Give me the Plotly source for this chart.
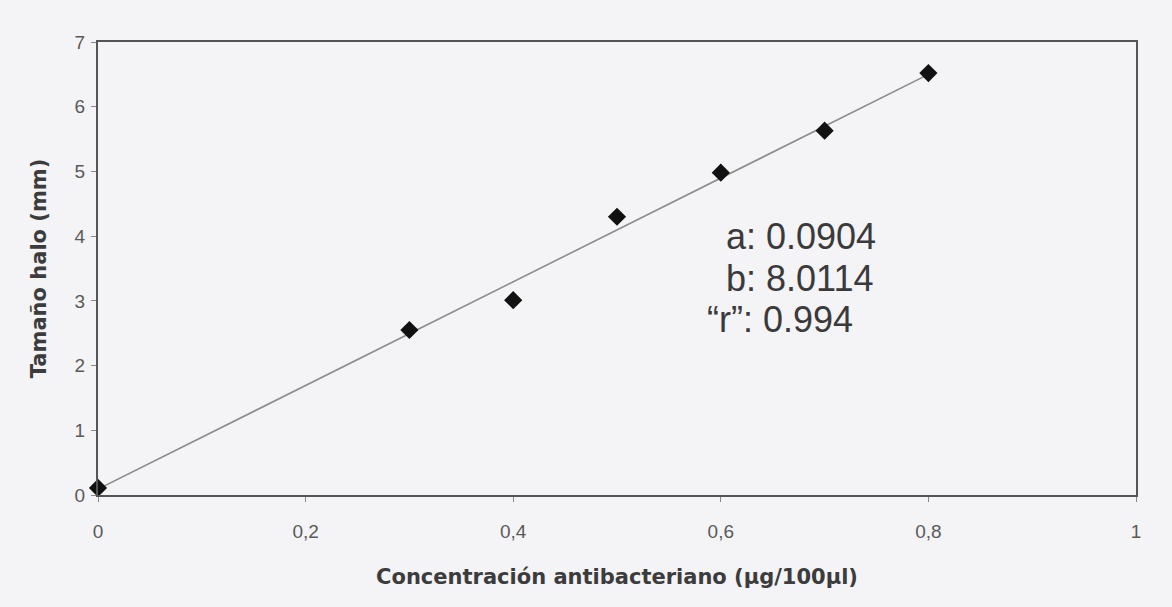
import plotly.graph_objects as go

# Data
concentracion = [0, 0.3, 0.4, 0.5, 0.6, 0.7, 0.8]
halo = [0.11, 2.55, 3.01, 4.3, 4.98, 5.63, 6.52]

# Regression parameters shown on chart
a = 0.0904
b = 8.0114
r = 0.994
fit_x = [0, 0.8]
fit_y = [a + b * x for x in fit_x]

x_ticks = [0, 0.2, 0.4, 0.6, 0.8, 1]
y_ticks = [0, 1, 2, 3, 4, 5, 6, 7]

bg = "#f4f3f6"
axis_col = "#555555"
text_col = "#4a4a4a"

fig = go.Figure()
fig.add_trace(go.Scatter(
    x=fit_x, y=fit_y, mode="lines",
    line=dict(color="#8c8c8c", width=1.6),
    hoverinfo="skip", showlegend=False))
fig.add_trace(go.Scatter(
    x=concentracion, y=halo, mode="markers",
    marker=dict(symbol="diamond", size=14, color="#111111"),
    showlegend=False, cliponaxis=False))

ann_font = dict(family="Liberation Sans, Arial, sans-serif", size=36, color="#3a3a3a")
fig.add_annotation(x=0.603, y=3.99, xref="x", yref="y", text=f"a: {a:.4f}",
                   showarrow=False, xanchor="left", yanchor="middle", font=ann_font)
fig.add_annotation(x=0.603, y=3.35, xref="x", yref="y", text=f"b: {b:.4f}",
                   showarrow=False, xanchor="left", yanchor="middle", font=ann_font)
fig.add_annotation(x=0.585, y=2.71, xref="x", yref="y", text=f"\u201cr\u201d: {r:.3f}",
                   showarrow=False, xanchor="left", yanchor="middle", font=ann_font)

title_font = dict(family="DejaVu Sans, sans-serif", size=21, color="#3c3c3c")

fig.update_layout(
    width=1172, height=607,
    margin=dict(l=98, r=36, t=42, b=112),
    paper_bgcolor=bg, plot_bgcolor=bg,
    separators=", ",
    font=dict(family="Liberation Sans, Arial, sans-serif", color=text_col),
    xaxis=dict(
        range=[0, 1], tickvals=x_ticks, showgrid=False, zeroline=False,
        showline=True, linecolor=axis_col, linewidth=2, mirror=True,
        ticks="outside", ticklen=5, tickcolor="#888888", tickwidth=1,
        tickfont=dict(size=19, color="#5a5a5a"), ticklabelstandoff=13,
        title=dict(text="<b>Concentración antibacteriano (µg/100µl)</b>",
                   font=title_font, standoff=29),
    ),
    yaxis=dict(
        range=[0, 7], tickvals=y_ticks, showgrid=False, zeroline=False,
        showline=True, linecolor=axis_col, linewidth=2, mirror=True,
        ticks="outside", ticklen=5, tickcolor="#888888", tickwidth=1,
        tickfont=dict(size=19, color="#5a5a5a"), ticklabelstandoff=2,
        title=dict(text="<b>Tamaño halo (mm)</b>",
                   font=title_font, standoff=22),
    ),
)

fig.write_html("out.html")
